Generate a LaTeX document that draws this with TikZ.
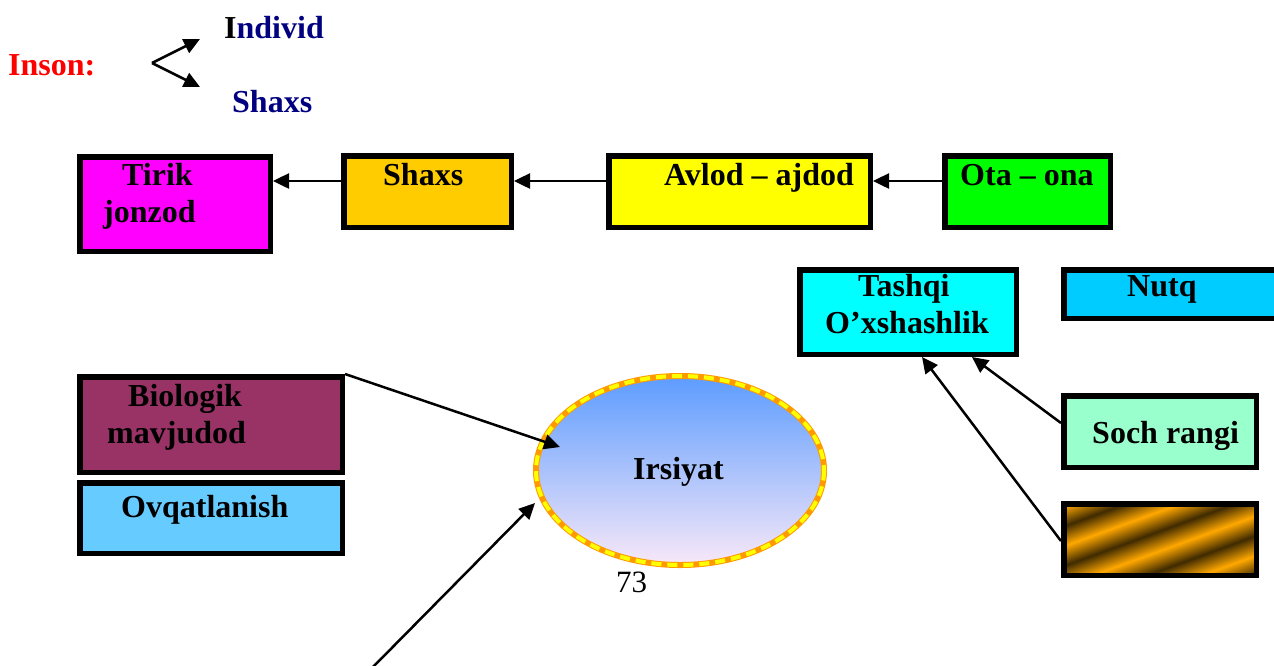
\documentclass[tikz,border=0pt]{standalone}
\usepackage{fontspec}
\setmainfont{Liberation Serif}
\usetikzlibrary{arrows.meta,shapes.geometric}
\definecolor{navyt}{HTML}{000080}
\definecolor{magbox}{HTML}{FF00FF}
\definecolor{shxbox}{HTML}{FFCC00}
\definecolor{avlbox}{HTML}{FFFF00}
\definecolor{otabox}{HTML}{00FF00}
\definecolor{tqbox}{HTML}{00FFFF}
\definecolor{nutqbox}{HTML}{00CCFF}
\definecolor{sochbox}{HTML}{99FFCC}
\definecolor{biobox}{HTML}{993366}
\definecolor{ovqbox}{HTML}{66CCFF}
\definecolor{elltop}{HTML}{5C9CFF}
\definecolor{ellmid}{HTML}{8CBEF5}
\definecolor{ellbot}{HTML}{F8E8F8}
\definecolor{ellor}{HTML}{FF9900}
\definecolor{gbr}{HTML}{3F2A00}
\definecolor{ggo}{HTML}{FFA800}
\pgfdeclareverticalshading{goldstripes}{100bp}{color(0bp)=(gbr); color(9bp)=(ggo); color(18bp)=(gbr); color(27bp)=(ggo); color(36bp)=(gbr); color(45bp)=(ggo); color(54bp)=(gbr); color(63bp)=(ggo); color(72bp)=(gbr); color(81bp)=(ggo); color(90bp)=(gbr); color(100bp)=(ggo)}
\tikzset{
  txt/.style={font=\bfseries\fontsize{32}{36}\selectfont, inner sep=0pt, anchor=base west},
  box/.style={draw=black, line width=5.5pt, inner sep=0pt},
  arr/.style={line width=2.5pt, -{Triangle[length=16pt,width=15pt]}},
}
\begin{document}
\begin{tikzpicture}[x=1pt,y=-1pt]
\useasboundingbox (0,0) rectangle (1274,665);
\clip (0,0) rectangle (1274,665);

% Top: Inson
\node[txt, text=red] (inson) at (8,75) {Inson:};
\node[txt, text=navyt] (indiv) at (224,38) {{\color{black}I}ndivid};
\node[txt, text=navyt] (shx0) at (232,112) {Shaxs};
\coordinate (v) at (152,63);
\coordinate (e1) at (200,39);
\coordinate (e2) at (200,87);
\draw[arr] (v) -- (e1);
\draw[arr] (v) -- (e2);

% Row 1 boxes
\node[box, fill=magbox, minimum width=190.5pt, minimum height=94.5pt] (tirik) at (175,204) {};
\node[box, fill=shxbox, minimum width=167.5pt, minimum height=71.5pt] (shx) at (427.5,191.5) {};
\node[box, fill=avlbox, minimum width=261.5pt, minimum height=71.5pt] (avl) at (739.5,191.5) {};
\node[box, fill=otabox, minimum width=165.5pt, minimum height=71.5pt] (ota) at (1027.5,191.5) {};
\node[txt] (t1) at (122,185) {Tirik};
\node[txt] (t2) at (103,222) {jonzod};
\node[txt] (t3) at (383,185) {Shaxs};
\node[txt] (t4) at (664,185) {Avlod – ajdod};
\node[txt] (t5) at (960,185) {Ota – ona};
\draw[arr] ([yshift=10.5pt]shx.west) -- ([yshift=23pt]tirik.east);
\draw[arr] ([yshift=10.5pt]avl.west) -- ([yshift=10.5pt]shx.east);
\draw[arr] ([yshift=10.5pt]ota.west) -- ([yshift=10.5pt]avl.east);

% Right group
\node[box, fill=tqbox, minimum width=216.5pt, minimum height=84.5pt] (tq) at (908,312) {};
\node[txt] (t6) at (858,296) {Tashqi};
\node[txt] (t7) at (825,333) {O’xshashlik};
\node[box, fill=nutqbox, minimum width=223.5pt, minimum height=48.5pt] (nutq) at (1175.5,294) {};
\node[txt] (t8) at (1127,296) {Nutq};
\node[box, fill=sochbox, minimum width=192.5pt, minimum height=71.5pt] (soch) at (1160,431.5) {};
\node[txt] (t9) at (1092,443) {Soch rangi};
\node[box, shading=goldstripes, shading angle=20, minimum width=192.5pt, minimum height=71.5pt] (gold) at (1160,539.5) {};
\draw[arr] ([yshift=8.5pt]soch.west) -- ([xshift=64pt]tq.south);
\draw[arr] ([yshift=-1.5pt]gold.west) -- ([xshift=14pt]tq.south);

% Left group
\node[box, fill=biobox, minimum width=262.5pt, minimum height=95.5pt] (bio) at (211,424.5) {};
\node[txt] (t10) at (128,406) {Biologik};
\node[txt] (t11) at (107,443) {mavjudod};
\node[box, fill=ovqbox, minimum width=262.5pt, minimum height=70.5pt] (ovq) at (211,518) {};
\node[txt] (t12) at (121,517) {Ovqatlanish};

% Irsiyat ellipse
\node[ellipse, draw=ellor, line width=6pt, minimum width=288pt, minimum height=189pt, inner sep=0pt,
      top color=elltop, middle color=ellmid, bottom color=ellbot] (irs) at (680,470.5) {};
\draw[avlbox, line width=4pt, dash pattern=on 10pt off 6pt] (irs.center) ellipse (144 and 94.5);
\node[txt] (t13) at (633,479) {Irsiyat};
\node[font=\fontsize{31}{36}\selectfont, inner sep=0pt, anchor=base west] (pg) at (616,592) {73};
\draw[arr] (bio.north east) -- ([xshift=-120pt,yshift=23.5pt]irs.center);
\coordinate (b0) at (372,668);
\draw[arr] (b0) -- ([xshift=-145pt,yshift=-32.5pt]irs.center);
\end{tikzpicture}
\end{document}
